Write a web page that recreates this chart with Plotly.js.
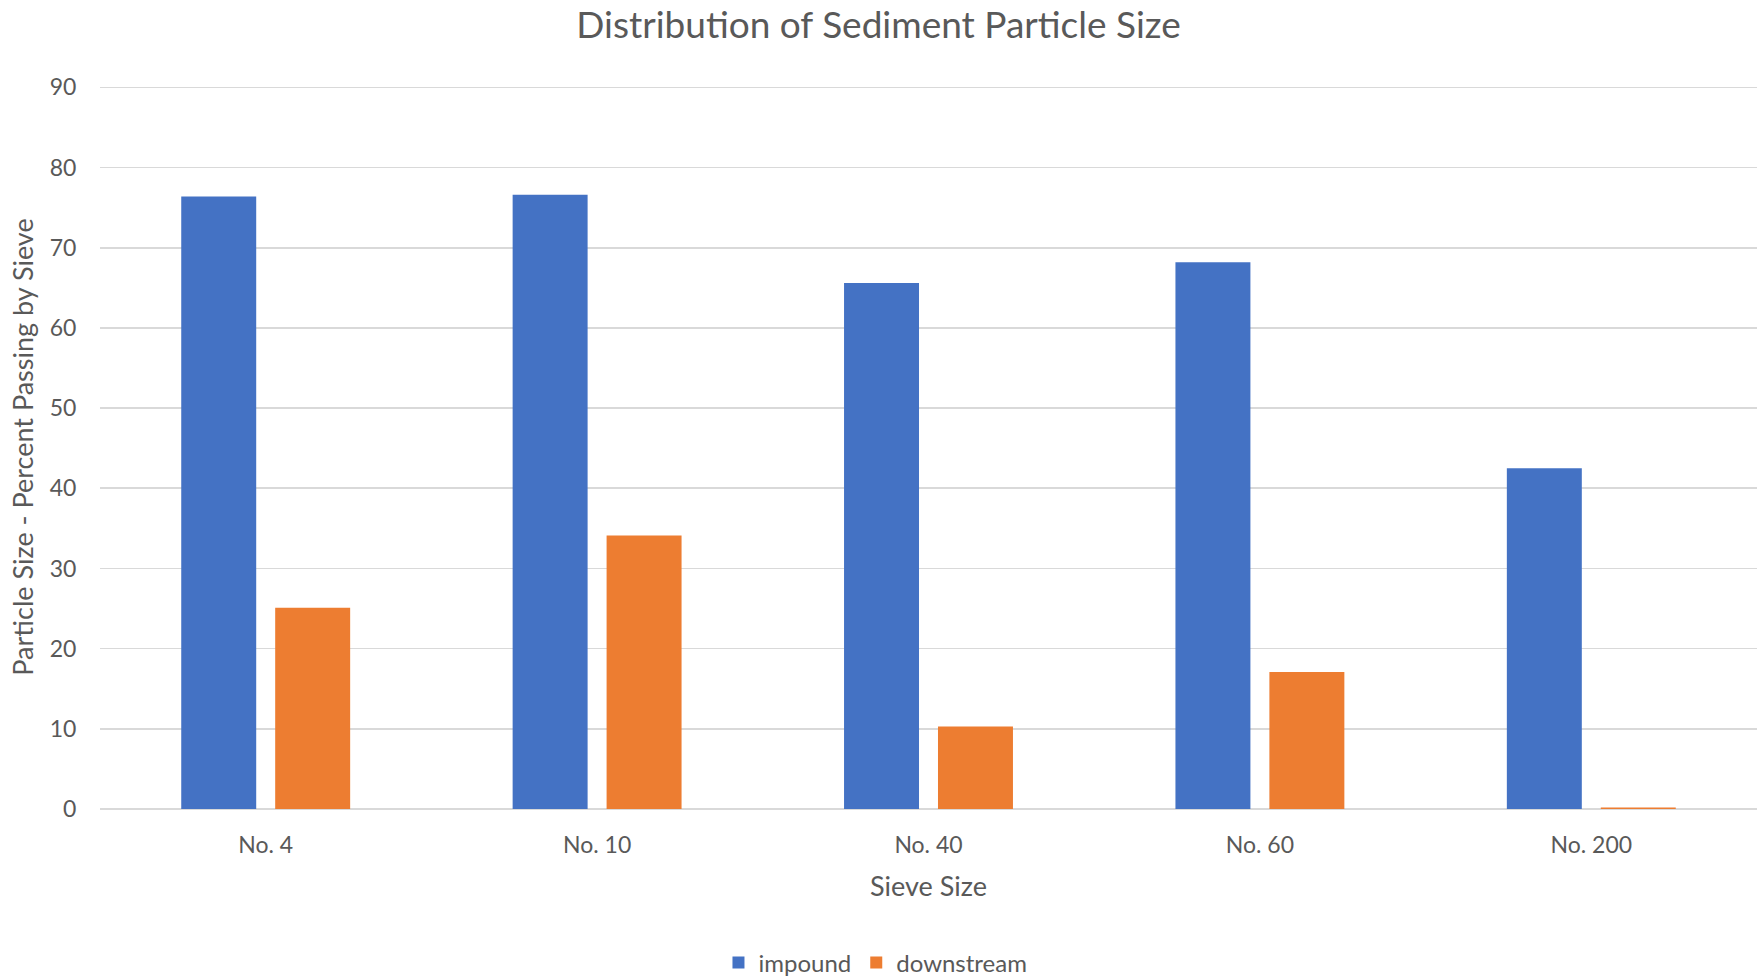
<!DOCTYPE html>
<html>
<head>
<meta charset="utf-8">
<script src="https://cdn.plot.ly/plotly-3.0.1.min.js"></script>
<style>html,body{margin:0;padding:0;background:#fff;}#chart{width:1757px;height:978px;}</style>
</head>
<body>
<div id="chart"></div>
<script>
const categories = ["No. 4", "No. 10", "No. 40", "No. 60", "No. 200"];
const impound = [76.4, 76.6, 65.6, 68.2, 42.5];
const downstream = [25.1, 34.1, 10.3, 17.1, 0.2];
const seriesNames = ["impound", "downstream"];
const yTicks = [0, 10, 20, 30, 40, 50, 60, 70, 80, 90];

const textColor = "#595959";
const fontFamily = "Lato, 'Open Sans', 'Liberation Sans', sans-serif";

const traces = [
  {type: "bar", name: seriesNames[0], x: categories, y: impound,
   marker: {color: "#4472C4", line: {width: 0}}, hoverinfo: "x+y+name"},
  {type: "bar", name: seriesNames[1], x: categories, y: downstream,
   marker: {color: "#ED7D31", line: {width: 0}}, hoverinfo: "x+y+name"}
];

const layout = {
  width: 1757, height: 978,
  paper_bgcolor: "#ffffff", plot_bgcolor: "#ffffff",
  margin: {l: 100, r: 0, t: 85, b: 169, autoexpand: false},
  font: {family: fontFamily, color: textColor, size: 23},
  barmode: "group", bargap: 0.433, bargroupgap: 0.202,
  title: {text: "Distribution of Sediment Particle Size", font: {size: 37, color: textColor, family: fontFamily},
          x: 0.5, xanchor: "center", xref: "container", y: 0.974, yanchor: "middle", yref: "container"},
  xaxis: {
    type: "category", automargin: false,
    title: {text: "Sieve Size", font: {size: 27, color: textColor}, standoff: 20},
    tickfont: {size: 23, color: textColor},
    ticks: "outside", ticklen: 15, tickcolor: "rgba(0,0,0,0)",
    showline: false, showgrid: false, zeroline: false
  },
  yaxis: {
    range: [0, 90.3], tickvals: yTicks, automargin: false,
    title: {text: "Particle Size - Percent Passing by Sieve", font: {size: 27, color: textColor}, standoff: 8},
    tickfont: {size: 23, color: textColor},
    ticks: "outside", ticklen: 18, tickcolor: "rgba(0,0,0,0)",
    showgrid: true, gridcolor: "#d9d9d9", gridwidth: 1.6,
    zeroline: true, zerolinecolor: "#d9d9d9", zerolinewidth: 1.6,
    showline: false, fixedrange: true
  },
  showlegend: true,
  legend: {orientation: "h", x: 0.468, xanchor: "center", y: -0.2125, yanchor: "middle",
           font: {size: 24, color: textColor}, bgcolor: "rgba(0,0,0,0)", itemwidth: 30}
};

Plotly.newPlot("chart", traces, layout, {displayModeBar: false, staticPlot: true});
</script>
</body>
</html>
